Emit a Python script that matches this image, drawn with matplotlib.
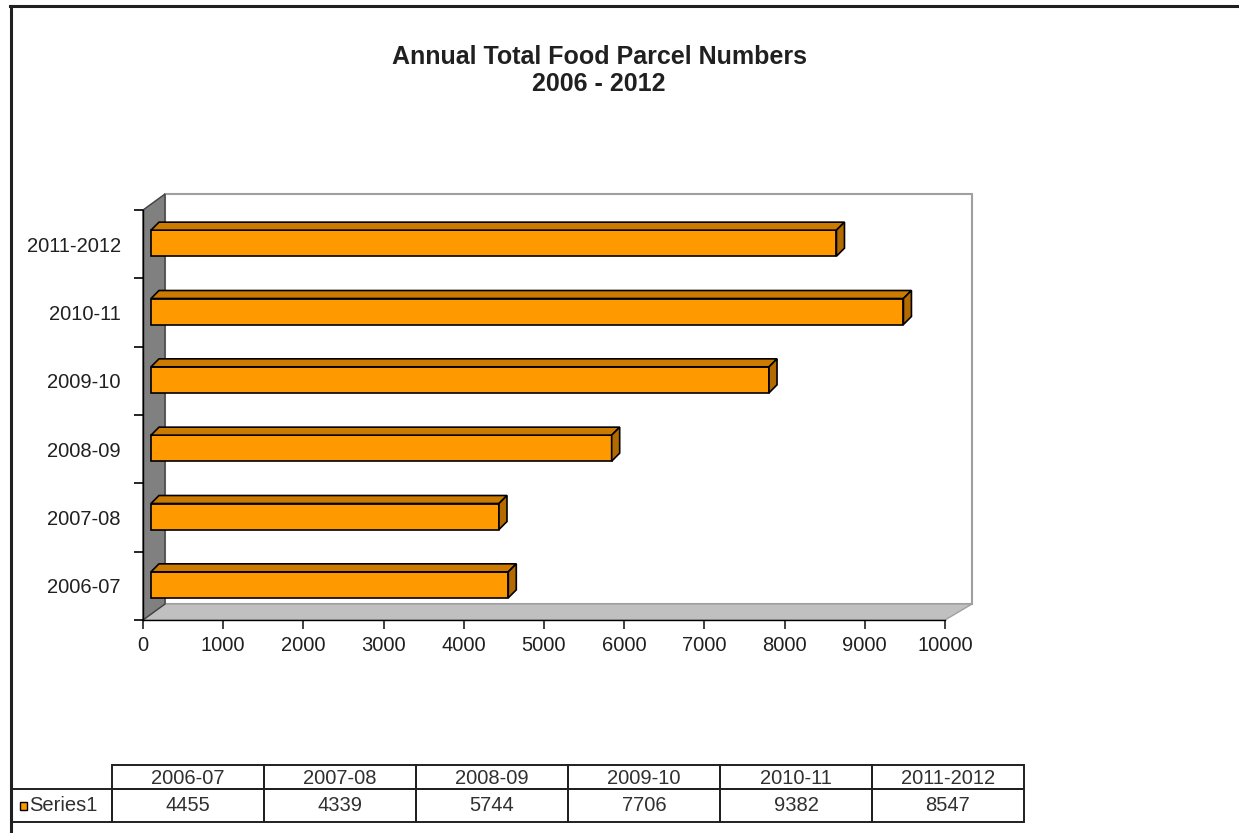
import matplotlib
matplotlib.use("Agg")
import matplotlib.pyplot as plt
from matplotlib.patches import Polygon, Rectangle
from matplotlib.lines import Line2D

plt.rcParams["font.family"] = ["Liberation Sans", "DejaVu Sans"]

# datos
temporadas = ["2006-07", "2007-08", "2008-09", "2009-10", "2010-11", "2011-2012"]
paquetes = [4455, 4339, 5744, 7706, 9382, 8547]
nombre_serie = "Series1"
titulo = ["Annual Total Food Parcel Numbers", "2006 - 2012"]
ticks_x = [0, 1000, 2000, 3000, 4000, 5000, 6000, 7000, 8000, 9000, 10000]

ANCHO, ALTO = 1239, 833
NARANJA = "#FF9900"
NARANJA_TOP = "#CC7A00"
NARANJA_LADO = "#B36B00"
TAM = 14.5

fig = plt.figure(figsize=(ANCHO / 100, ALTO / 100), dpi=100)

# plano frontal del grafico en pixeles de la imagen
x0_px, x1_px = 143, 945
y0_px, y1_px = 620, 210
ax = fig.add_axes([x0_px / ANCHO, 1 - y0_px / ALTO,
                   (x1_px - x0_px) / ANCHO, (y0_px - y1_px) / ALTO])
ax.set_xlim(0, 10000)
ax.set_ylim(0, len(temporadas))

# pixeles -> unidades de datos
ux = 10000 / (x1_px - x0_px)
uy = len(temporadas) / (y0_px - y1_px)

prof_x, prof_y = 22 * ux, 16 * uy      # profundidad de paredes
prof_x_der = 27 * ux
xmax = 10000
n = len(temporadas)

# pared del fondo
ax.add_patch(Rectangle((prof_x, prof_y), xmax + prof_x_der - prof_x, n,
                       facecolor="white", edgecolor="#a0a0a0", lw=1.5,
                       clip_on=False, zorder=0))
# suelo
ax.add_patch(Polygon([(0, 0), (xmax, 0), (xmax + prof_x_der, prof_y), (prof_x, prof_y)],
                     closed=True, facecolor="#c0c0c0", edgecolor="#a0a0a0", lw=1,
                     clip_on=False, zorder=1))
# pared izquierda
ax.add_patch(Polygon([(0, 0), (0, n), (prof_x, n + prof_y), (prof_x, prof_y)],
                     closed=True, facecolor="#808080", edgecolor="#404040", lw=1,
                     clip_on=False, zorder=1))

# barras 3D
desp = 8 * ux
bx, by = 8 * ux, 8 * uy
alto_barra = 26 * uy
centros = [i + 0.5 + 1 * uy for i in range(n)]

ax.barh(centros, paquetes, height=alto_barra, left=desp, color=NARANJA,
        edgecolor="black", linewidth=1.2, zorder=3)
for yc, v in zip(centros, paquetes):
    arriba = yc + alto_barra / 2
    abajo = yc - alto_barra / 2
    ax.add_patch(Polygon([(desp, arriba), (desp + v, arriba),
                          (desp + v + bx, arriba + by), (desp + bx, arriba + by)],
                         closed=True, facecolor=NARANJA_TOP, edgecolor="black",
                         lw=1.2, zorder=3, clip_on=False))
    ax.add_patch(Polygon([(desp + v, abajo), (desp + v + bx, abajo + by),
                          (desp + v + bx, arriba + by), (desp + v, arriba)],
                         closed=True, facecolor=NARANJA_LADO, edgecolor="black",
                         lw=1.2, zorder=3, clip_on=False))

for lado in ["top", "right"]:
    ax.spines[lado].set_visible(False)
for lado in ["left", "bottom"]:
    ax.spines[lado].set_color("black")
    ax.spines[lado].set_linewidth(1)
    ax.spines[lado].set_zorder(2)

ax.set_xticks(ticks_x)
ax.set_xticklabels([str(t) for t in ticks_x])
ax.tick_params(axis="x", direction="out", length=6.5, width=1.2, pad=5,
               labelsize=TAM, colors="#202020")
ax.set_yticks(range(n + 1))
ax.set_yticklabels([])
ax.set_yticks([i + 0.5 for i in range(n)], minor=True)
ax.set_yticklabels(temporadas, minor=True)
ax.tick_params(axis="y", which="major", direction="out", length=6.5, width=1.2)
ax.tick_params(axis="y", which="minor", length=0, pad=16, labelsize=TAM,
               colors="#202020")

for linea, y in zip(titulo, [57, 84]):
    fig.text(599 / ANCHO, 1 - y / ALTO, linea, ha="center", va="center",
             fontsize=18, fontweight="bold", color="#202020")

# borde de la imagen
capa = fig.add_axes([0, 0, 1, 1], zorder=-1)
capa.set_xlim(0, ANCHO)
capa.set_ylim(ALTO, 0)
capa.axis("off")
capa.add_line(Line2D([10, ANCHO], [6, 6], color="#202020", lw=2.2))
capa.add_line(Line2D([11, 11], [6, ALTO], color="#202020", lw=2.2))

# tabla de datos
tabla = fig.add_axes([0, 0, 1, 1])
tabla.set_xlim(0, ANCHO)
tabla.set_ylim(ALTO, 0)
tabla.axis("off")
tabla.patch.set_alpha(0)

col0, col1, ancho_col = 12, 112, 152
fila_top, fila_mid, fila_bot = 765, 789, 822
for i, (t, v) in enumerate(zip(temporadas, paquetes)):
    xa = col1 + i * ancho_col
    tabla.add_patch(Rectangle((xa, fila_top), ancho_col, fila_mid - fila_top,
                              facecolor="none", edgecolor="#202020", lw=1.4))
    tabla.add_patch(Rectangle((xa, fila_mid), ancho_col, fila_bot - fila_mid,
                              facecolor="none", edgecolor="#202020", lw=1.4))
    tabla.text(xa + ancho_col / 2, (fila_top + fila_mid) / 2 + 1, t,
               ha="center", va="center", fontsize=TAM, color="#303030")
    tabla.text(xa + ancho_col / 2, (fila_mid + fila_bot) / 2, str(v),
               ha="center", va="center", fontsize=TAM, color="#303030")
tabla.add_patch(Rectangle((col0, fila_mid), col1 - col0, fila_bot - fila_mid,
                          facecolor="none", edgecolor="#202020", lw=1.4))
tabla.add_patch(Rectangle((20, 802), 7, 8, facecolor=NARANJA, edgecolor="black", lw=1))
tabla.text(29, (fila_mid + fila_bot) / 2, nombre_serie, ha="left", va="center",
           fontsize=TAM, color="#303030")

fig.savefig("out.png", dpi=100)
